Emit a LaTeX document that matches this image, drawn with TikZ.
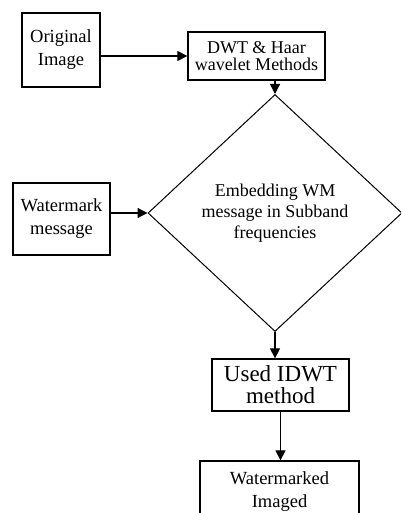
\documentclass[tikz,border=0pt]{standalone}
\usepackage{fontspec}
\setmainfont{Liberation Serif}
\usetikzlibrary{shapes.geometric,arrows.meta}

\tikzset{
  stepbox/.style={draw, line width=1.3pt, align=center, inner sep=0pt},
  decide/.style={draw, diamond, line width=1pt, align=center, inner sep=0pt},
  flow/.style={-{Triangle[length=10pt,width=10pt]}, line width=1.2pt}
}

\begin{document}
\begin{tikzpicture}[x=1pt,y=-1pt]
      \useasboundingbox (0,0) rectangle (401,513);
      \clip (0,0) rectangle (401,513);
      % boxes
      \node[stepbox, minimum width=78pt, minimum height=74pt,
            font=\fontsize{18.5}{23}\selectfont] (orig) at (61,50) {Original\\Image};
      \node[stepbox, minimum width=137pt, minimum height=48pt,
            font=\fontsize{18}{17}\selectfont] (dwt) at (256.5,56) {DWT \& Haar\\wavelet Methods};
      \node[decide, minimum width=254pt, minimum height=237pt,
            font=\fontsize{18}{21}\selectfont] (dia) at (275,213)
            {Embedding WM\\message in Subband\\frequencies};
      \node[stepbox, minimum width=97pt, minimum height=72pt,
            font=\fontsize{18.5}{23}\selectfont] (wm) at (61.5,219) {Watermark\\message};
      \node[stepbox, minimum width=137pt, minimum height=52pt,
            font=\fontsize{23}{22}\selectfont] (idwt) at (280.5,385) {Used IDWT\\method};
      \node[stepbox, minimum width=159pt, minimum height=62pt,
            font=\fontsize{18.5}{23}\selectfont] (wmd) at (279.5,492) {Watermarked\\Imaged};
      % connectors
      \draw[flow] (orig.east |- dwt.west) -- (dwt.west);
      \draw[flow] (dwt.south -| dia.north) -- (dia.north);
      \draw[flow] (wm.east |- dia.west) -- (dia.west);
      \draw[flow] (dia.south) -- (dia.south |- idwt.north);
      \draw[flow] (idwt.south) -- (idwt.south |- wmd.north);
\end{tikzpicture}
\end{document}
